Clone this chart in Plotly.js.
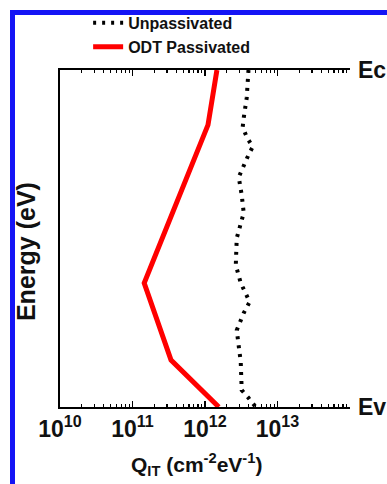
<!DOCTYPE html>
<html>
<head>
<meta charset="utf-8">
<script src="https://cdn.plot.ly/plotly-3.0.1.min.js"></script>
<style>
  html, body { margin: 0; padding: 0; background: #ffffff; overflow: hidden; }
  #chart { width: 387px; height: 484px; }
  #frame { position: absolute; left: 10px; top: 10px; width: 420px; height: 520px;
           border-left: 5px solid #1414f5; border-top: 5px solid #1414f5; pointer-events: none; z-index: 10; }
</style>
</head>
<body>
<div id="chart"></div>
<div id="frame"></div>
<script>
// Normalised energy position in the gap: 0 = Ev, 1 = Ec
const unpassEnergy = [1.000, 0.917, 0.858, 0.831, 0.801, 0.772, 0.748, 0.682, 0.629, 0.576,
                      0.501, 0.421, 0.368, 0.312, 0.279, 0.228, 0.134, 0.050, 0.027, 0.000];
const unpassQit = [3.98e12, 3.76e12, 3.42e12, 3.31e12, 3.76e12, 4.55e12, 3.98e12, 2.92e12, 3.21e12, 3.42e12,
                   2.74e12, 2.66e12, 3.11e12, 4.13e12, 3.42e12, 2.74e12, 3.11e12, 3.21e12, 3.98e12, 5.0e12];

const odtEnergy = [1.000, 0.837, 0.368, 0.139, 0.000];
const odtQit = [1.46e12, 1.10e12, 1.45e11, 3.4e11, 1.55e12];

const seriesNames = ['Unpassivated', 'ODT Passivated'];
const tickVals = [1e10, 1e11, 1e12, 1e13];
const tickText = ['10<sup>10</sup>', '10<sup>11</sup>', '10<sup>12</sup>', '10<sup>13</sup>'];
const bandEdgeLabels = ['Ec', 'Ev'];

const minorVals = [];
for (let d = 10; d < 14; d++) {
  for (let k = 2; k <= 9; k++) minorVals.push(k * Math.pow(10, d));
}

const FONT = 'Arial, "Liberation Sans", Helvetica, sans-serif';

const traces = [
  {
    x: unpassQit, y: unpassEnergy, name: seriesNames[0], type: 'scatter', mode: 'lines',
    line: { color: '#000000', width: 4, dash: '3px,6px' }
  },
  {
    x: odtQit, y: odtEnergy, name: seriesNames[1], type: 'scatter', mode: 'lines',
    line: { color: '#ff0000', width: 5 }
  }
];

const layout = {
  width: 387, height: 484,
  margin: { l: 60, r: 37, t: 70, b: 77, autoexpand: false },
  paper_bgcolor: '#ffffff', plot_bgcolor: '#ffffff',
  showlegend: true,
  legend: {
    x: 0.097, y: 1.19, xanchor: 'left', yanchor: 'top',
    bgcolor: 'rgba(0,0,0,0)', borderwidth: 0,
    font: { family: FONT, size: 16, color: '#111111', weight: 'bold' },
    tracegroupgap: 0
  },
  xaxis: {
    type: 'log', range: [10, 14],
    showgrid: false, zeroline: false,
    showline: true, linecolor: '#000000', linewidth: 2, mirror: 'ticks',
    ticks: 'inside', ticklen: 6, tickwidth: 1.5, tickcolor: '#000000',
    tickmode: 'array', tickvals: tickVals, ticktext: tickText,
    tickfont: { family: FONT, size: 23, color: '#111111', weight: 'bold' },
    minor: { tickmode: 'array', tickvals: minorVals, ticks: 'inside', ticklen: 3, tickwidth: 1.2, tickcolor: '#000000', showgrid: false }
  },
  yaxis: {
    range: [0, 1],
    showgrid: false, zeroline: false,
    showline: true, linecolor: '#000000', linewidth: 2, mirror: false,
    ticks: '', showticklabels: false
  },
  annotations: [
    { xref: 'paper', yref: 'paper', x: 1, y: 1, xanchor: 'left', yanchor: 'middle', xshift: 6,
      text: bandEdgeLabels[0], showarrow: false, font: { family: FONT, size: 23, color: '#111111', weight: 'bold' } },
    { xref: 'paper', yref: 'paper', x: 1, y: 0, xanchor: 'left', yanchor: 'middle', xshift: 6,
      text: bandEdgeLabels[1], showarrow: false, font: { family: FONT, size: 23, color: '#111111', weight: 'bold' } },
    { xref: 'paper', yref: 'paper', x: -0.117, y: 0.46, xanchor: 'center', yanchor: 'middle', textangle: -90,
      text: 'Energy (eV)', showarrow: false, font: { family: FONT, size: 25, color: '#111111', weight: 'bold' } },
    { xref: 'paper', yref: 'paper', x: 0.472, y: -0.17, xanchor: 'center', yanchor: 'middle',
      text: 'Q<sub>IT</sub> (cm<sup>-2</sup>eV<sup>-1</sup>)', showarrow: false,
      font: { family: FONT, size: 21, color: '#111111', weight: 'bold' } }
  ]
};

Plotly.newPlot('chart', traces, layout, { displayModeBar: false, staticPlot: true });
</script>
</body>
</html>
